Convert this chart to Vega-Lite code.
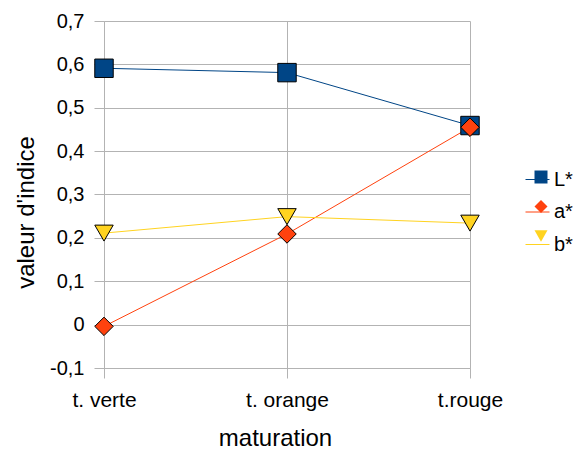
{
  "$schema": "https://vega.github.io/schema/vega-lite/v6.json",
  "width": 366,
  "height": 347,
  "autosize": "none",
  "padding": {"left": 104, "top": 21, "right": 104, "bottom": 82},
  "background": "white",
  "config": {
    "font": "Liberation Sans",
    "view": {"stroke": null},
    "legend": {"padding": 0}
  },
  "data": {
    "values": [
      {"stade": "t. verte", "serie": "L*", "valeur": 0.591},
      {"stade": "t. orange", "serie": "L*", "valeur": 0.581},
      {"stade": "t.rouge", "serie": "L*", "valeur": 0.459},
      {"stade": "t. verte", "serie": "a*", "valeur": -0.004},
      {"stade": "t. orange", "serie": "a*", "valeur": 0.209},
      {"stade": "t.rouge", "serie": "a*", "valeur": 0.455},
      {"stade": "t. verte", "serie": "b*", "valeur": 0.211},
      {"stade": "t. orange", "serie": "b*", "valeur": 0.249},
      {"stade": "t.rouge", "serie": "b*", "valeur": 0.234}
    ]
  },
  "encoding": {
    "x": {
      "field": "stade",
      "type": "ordinal",
      "sort": ["t. verte", "t. orange", "t.rouge"],
      "scale": {"type": "point", "padding": 0},
      "axis": {
        "title": "maturation",
        "titleFontSize": 24,
        "titleFontWeight": "normal",
        "titleColor": "black",
        "titlePadding": 16,
        "titleX": 171,
        "labelFontSize": 21,
        "labelColor": "black",
        "labelAngle": 0,
        "labelPadding": 11,
        "tickSize": 10,
        "tickColor": "#b3b3b3",
        "domainColor": "#b3b3b3",
        "grid": true,
        "gridColor": "#b3b3b3"
      }
    },
    "y": {
      "field": "valeur",
      "type": "quantitative",
      "scale": {"domain": [-0.1, 0.7], "nice": false, "zero": false},
      "axis": {
        "title": "valeur d'indice",
        "titleFontSize": 24,
        "titleFontWeight": "normal",
        "titleColor": "black",
        "titlePadding": 11,
        "titleY": 191,
        "values": [-0.1, 0, 0.1, 0.2, 0.3, 0.4, 0.5, 0.6, 0.7],
        "labelExpr": "datum.value == 0 ? '0' : replace(replace(format(datum.value, '.1f'), '.', ','), '\u2212', '-')",
        "labelFontSize": 20,
        "labelColor": "black",
        "labelPadding": 10,
        "tickSize": 10,
        "tickColor": "#b3b3b3",
        "domainColor": "#b3b3b3",
        "grid": true,
        "gridColor": "#b3b3b3"
      }
    }
  },
  "layer": [
    {
      "mark": {"type": "line", "strokeWidth": 1},
      "encoding": {
        "stroke": {
          "field": "serie",
          "type": "nominal",
          "sort": ["L*", "a*", "b*"],
          "scale": {"range": ["#004586", "#ff420e", "#ffd320"]},
          "legend": {
            "title": null,
            "orient": "none",
            "legendX": 421,
            "legendY": 146,
            "symbolType": "stroke",
            "symbolSize": 576,
            "symbolStrokeWidth": 1,
            "labelFontSize": 20,
            "labelColor": "black",
            "labelOffset": 4,
            "rowPadding": 9.5
          }
        }
      }
    },
    {
      "mark": {"type": "point", "filled": true, "opacity": 1, "stroke": "black", "strokeWidth": 1, "size": 340},
      "encoding": {
        "fill": {
          "field": "serie",
          "type": "nominal",
          "scale": {"domain": ["L*", "a*", "b*"], "range": ["#004586", "#ff420e", "#ffd320"]},
          "legend": {
            "title": null,
            "orient": "none",
            "legendX": 427,
            "legendY": 146,
            "symbolSize": 169,
            "symbolStrokeColor": "black",
            "symbolStrokeWidth": 1,
            "labelFontSize": 20,
            "labelOpacity": 0,
            "labelOffset": 4,
            "rowPadding": 9.5
          }
        },
        "shape": {
          "field": "serie",
          "type": "nominal",
          "scale": {"domain": ["L*", "a*", "b*"], "range": ["square", "diamond", "triangle-down"]},
          "legend": {
            "title": null,
            "orient": "none",
            "legendX": 427,
            "legendY": 146,
            "symbolSize": 169,
            "symbolStrokeColor": "black",
            "symbolStrokeWidth": 1,
            "labelFontSize": 20,
            "labelOpacity": 0,
            "labelOffset": 4,
            "rowPadding": 9.5
          }
        }
      }
    }
  ]
}
